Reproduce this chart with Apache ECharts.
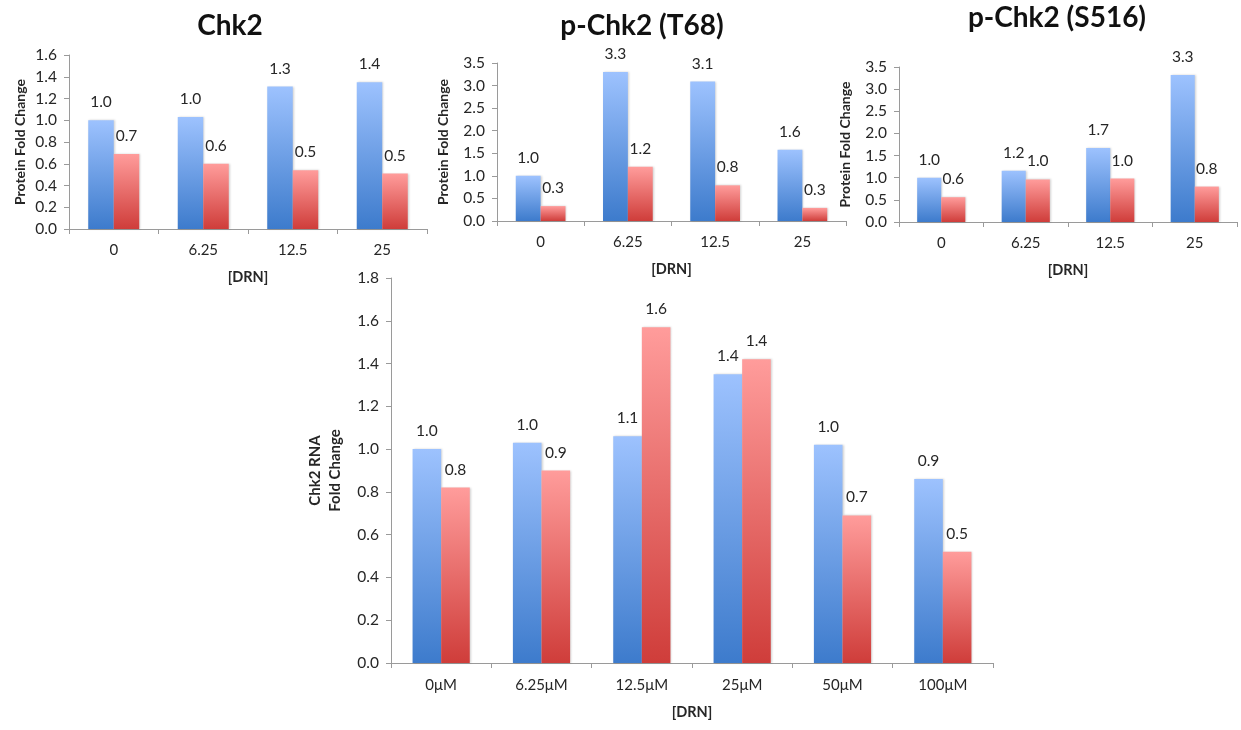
<!DOCTYPE html>
<html>
<head>
<meta charset="utf-8">
<script src="https://cdn.jsdelivr.net/npm/echarts@6/dist/echarts.min.js"></script>
<style>
html,body{margin:0;padding:0;background:#fff;}
#chart{width:1241px;height:730px;}
</style>
</head>
<body>
<div id="chart"></div>
<script>
// ---- Data ----
const proteinCategories = ['0', '6.25', '12.5', '25'];
const chk2Blue = [1.00, 1.03, 1.31, 1.35];
const chk2Red = [0.69, 0.60, 0.54, 0.51];
const t68Blue = [1.00, 3.30, 3.09, 1.58];
const t68Red = [0.33, 1.20, 0.79, 0.29];
const s516Blue = [1.00, 1.16, 1.67, 3.32];
const s516Red = [0.56, 0.96, 0.98, 0.80];
const rnaCategories = ['0μM', '6.25μM', '12.5μM', '25μM', '50μM', '100μM'];
const rnaBlue = [1.00, 1.03, 1.06, 1.35, 1.02, 0.86];
const rnaRed = [0.82, 0.90, 1.57, 1.42, 0.69, 0.52];
const titles = ['Chk2', 'p-Chk2 (T68)', 'p-Chk2 (S516)'];
const proteinAxisName = 'Protein Fold Change';
const rnaAxisName = 'Chk2 RNA\nFold Change';
const xAxisName = '[DRN]';

// ---- Styles ----
const FONT = 'Lato, "Open Sans", sans-serif';
const TXT = '#262626';
const AXIS = '#9a9a9a';
const blueGrad = {type:'linear',x:0,y:0,x2:0,y2:1,colorStops:[{offset:0,color:'#9dc2fe'},{offset:1,color:'#3d7bcc'}]};
const redGrad = {type:'linear',x:0,y:0,x2:0,y2:1,colorStops:[{offset:0,color:'#ff9c9b'},{offset:1,color:'#cf3d3a'}]};

const grids = [
  {left:69, top:55, width:358, height:174},
  {left:497, top:63, width:349, height:158},
  {left:899, top:67, width:338, height:155},
  {left:391, top:278, width:602, height:385}
];

function xAxisFor(i, cats, margin, gap){
  return {
    type:'category', gridIndex:i, data:cats,
    axisLine:{lineStyle:{color:AXIS, width:1}},
    axisTick:{show:true, length:5, lineStyle:{color:AXIS}},
    axisLabel:{color:TXT, fontFamily:FONT, fontSize:15, margin:margin},
    name:xAxisName, nameLocation:'middle', nameGap:gap,
    nameTextStyle:{color:TXT, fontFamily:FONT, fontSize:14.5, fontWeight:'bold'}
  };
}
function yAxisFor(i, max, interval, name, gap, fs, lh){
  return {
    type:'value', gridIndex:i, min:0, max:max, interval:interval,
    splitLine:{show:false},
    axisLine:{show:true, lineStyle:{color:AXIS, width:1}},
    axisTick:{show:true, length:5, lineStyle:{color:AXIS}},
    axisLabel:{color:TXT, fontFamily:FONT, fontSize:15.5, margin:12,
      formatter:v => v.toFixed(1)},
    name:name, nameLocation:'middle', nameGap:gap, nameRotate:90,
    nameTextStyle:{color:TXT, fontFamily:FONT, fontSize:fs, fontWeight:'bold', lineHeight:lh}
  };
}
function barSeries(i, data, grad){
  return {
    type:'bar', xAxisIndex:i, yAxisIndex:i, data:data,
    barGap:'0%', barCategoryGap:'43%',
    itemStyle:{color:grad, shadowColor:'rgba(0,0,0,0.18)', shadowBlur:2, shadowOffsetX:1, shadowOffsetY:0},
    label:{show:true, position:'top', distance:10, color:TXT, fontFamily:FONT, fontSize:15.5,
      formatter:p => p.value.toFixed(1)},
    emphasis:{disabled:true}
  };
}

const option = {
  animation:false,
  backgroundColor:'#fff',
  title:[
    {text:titles[0], left:225, top:7, textAlign:'center', textStyle:{fontFamily:FONT, fontSize:28, fontWeight:'bold', color:'#111'}},
    {text:titles[1], left:637, top:7, textAlign:'center', textStyle:{fontFamily:FONT, fontSize:28, fontWeight:'bold', color:'#111'}},
    {text:titles[2], left:1052, top:-1, textAlign:'center', textStyle:{fontFamily:FONT, fontSize:28, fontWeight:'bold', color:'#111'}}
  ],
  grid:grids,
  xAxis:[
    xAxisFor(0, proteinCategories, 14, 41),
    xAxisFor(1, proteinCategories, 14, 41),
    xAxisFor(2, proteinCategories, 14, 41),
    xAxisFor(3, rnaCategories, 15, 42)
  ],
  yAxis:[
    yAxisFor(0, 1.6, 0.2, proteinAxisName, 41, 14, 16),
    yAxisFor(1, 3.5, 0.5, proteinAxisName, 46, 14, 16),
    yAxisFor(2, 3.5, 0.5, proteinAxisName, 46, 14, 16),
    yAxisFor(3, 1.8, 0.2, rnaAxisName, 46, 15, 20)
  ],
  series:[
    barSeries(0, chk2Blue, blueGrad), barSeries(0, chk2Red, redGrad),
    barSeries(1, t68Blue, blueGrad), barSeries(1, t68Red, redGrad),
    barSeries(2, s516Blue, blueGrad), barSeries(2, s516Red, redGrad),
    barSeries(3, rnaBlue, blueGrad), barSeries(3, rnaRed, redGrad)
  ]
};
const chart = echarts.init(document.getElementById('chart'), null, {renderer:'canvas'});
chart.setOption(option);
</script>
</body>
</html>
